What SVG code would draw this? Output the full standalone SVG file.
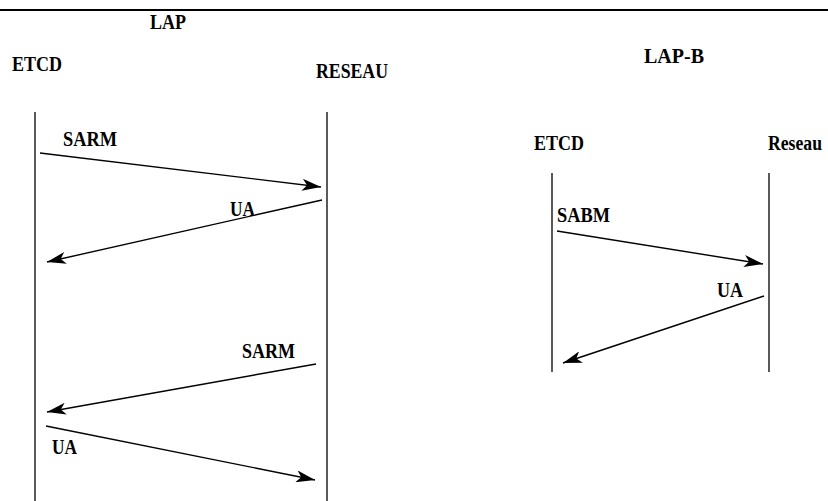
<svg xmlns="http://www.w3.org/2000/svg" width="828" height="501" viewBox="0 0 828 501">
  <style>
    text { font-family: "Liberation Serif", "Times New Roman", serif; font-weight: bold; fill: #000; }
    .t { font-size: 20px; }
    .lbl { font-size: 20px; }
    .life { stroke: #000; stroke-width: 1.3; fill: none; }
    .msg { stroke: #000; stroke-width: 1.4; fill: none; marker-end: url(#head); }
  </style>
  <defs>
    <marker id="head" viewBox="0 0 19 12" refX="19" refY="6" markerWidth="19" markerHeight="12" markerUnits="userSpaceOnUse" orient="auto">
      <path d="M0,0 L19,6 L0,12 L5,6 Z" fill="#000"/>
    </marker>
  </defs>

  <!-- rule across the top -->
  <line x1="0" y1="10" x2="828" y2="10" stroke="#000" stroke-width="2"/>

  <!-- titles -->
  <text class="t" x="150" y="29" textLength="36" lengthAdjust="spacingAndGlyphs" style="font-size:22px">LAP</text>
  <text class="t" x="644" y="63" textLength="60" lengthAdjust="spacingAndGlyphs">LAP-B</text>

  <!-- LAP participants -->
  <g id="lap-etcd">
    <text class="t" x="12" y="71" textLength="50" lengthAdjust="spacingAndGlyphs">ETCD</text>
    <line class="life" x1="35" y1="112" x2="35" y2="501"/>
  </g>
  <g id="lap-reseau">
    <text class="t" x="316" y="78" textLength="72" lengthAdjust="spacingAndGlyphs">RESEAU</text>
    <line class="life" x1="327" y1="112" x2="327" y2="501"/>
  </g>

  <!-- LAP-B participants -->
  <g id="lapb-etcd">
    <text class="t" x="534" y="150" textLength="50" lengthAdjust="spacingAndGlyphs">ETCD</text>
    <line class="life" x1="552" y1="173" x2="552" y2="372"/>
  </g>
  <g id="lapb-reseau">
    <text class="t" x="768" y="150" textLength="54" lengthAdjust="spacingAndGlyphs">Reseau</text>
    <line class="life" x1="769" y1="173" x2="769" y2="372"/>
  </g>

  <!-- messages -->
  <g id="connectors">
    <line class="msg" x1="40" y1="153" x2="321" y2="187"/>
    <line class="msg" x1="322" y1="200" x2="47" y2="262"/>
    <line class="msg" x1="316" y1="364" x2="47" y2="412"/>
    <line class="msg" x1="46" y1="426" x2="315" y2="480"/>
    <line class="msg" x1="557" y1="231" x2="763" y2="264"/>
    <line class="msg" x1="764" y1="296" x2="563" y2="363"/>
  </g>

  <!-- message labels -->
  <g id="labels">
    <text class="lbl" x="63" y="146" textLength="54" lengthAdjust="spacingAndGlyphs">SARM</text>
    <text class="lbl" x="230" y="216" textLength="25" lengthAdjust="spacingAndGlyphs">UA</text>
    <text class="lbl" x="242" y="358" textLength="53" lengthAdjust="spacingAndGlyphs">SARM</text>
    <text class="lbl" x="52" y="454" textLength="25" lengthAdjust="spacingAndGlyphs">UA</text>
    <text class="lbl" x="557" y="222" textLength="53" lengthAdjust="spacingAndGlyphs">SABM</text>
    <text class="lbl" x="717" y="297" textLength="26" lengthAdjust="spacingAndGlyphs">UA</text>
  </g>
</svg>
